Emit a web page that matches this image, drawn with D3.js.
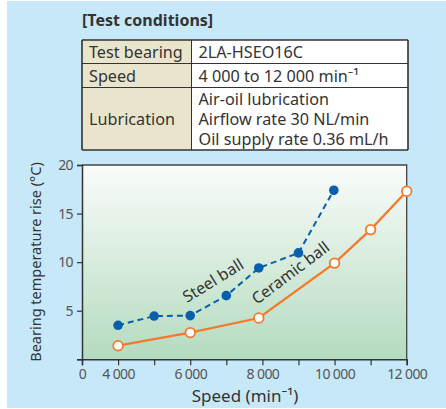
<!DOCTYPE html>
<html><head><meta charset="utf-8">
<script src="https://cdn.jsdelivr.net/npm/d3@7"></script>
<style>body{margin:0;background:#fff}svg{display:block;font-family:"Noto Sans","Open Sans",sans-serif}</style>
</head><body>
<svg id="c" width="446" height="409"></svg>
<script>
const conditionLabels = ["Test bearing", "Speed", "Lubrication"];
const conditionValues = [["2LA-HSEO16C"], ["4 000 to 12 000 min\u207B\u00B9"], ["Air-oil lubrication", "Airflow rate 30 NL/min", "Oil supply rate 0.36 mL/h"]];
const steelSpeed = [4000, 5000, 6000, 7000, 7900, 9000, 9980];
const steelRise = [3.5, 4.45, 4.5, 6.55, 9.4, 10.95, 17.4];
const ceramicSpeed = [4000, 6000, 7900, 10000, 11000, 12000];
const ceramicRise = [1.4, 2.75, 4.25, 9.9, 13.35, 17.3];
const xTicks = [3000, 4000, 5000, 6000, 7000, 8000, 9000, 10000, 11000, 12000];
const xTickLabels = ["0", "4 000", "", "6 000", "", "8 000", "", "10 000", "", "12 000"];
const yTicks = [0, 5, 10, 15, 20];
const yTickLabels = ["", "5", "10", "15", "20"];

const svg = d3.select("#c");
svg.append("rect").attr("x", 7).attr("y", 1).attr("width", 439).attr("height", 407).attr("fill", "#c6e8f8");

// Table
svg.append("text").attr("x", 82).attr("y", 26).attr("font-size", 16).attr("font-weight", "bold").attr("fill", "#333").text("[Test conditions]");
const rowY = [40, 63.5, 87.5, 150];
const tx0 = 82, tx1 = 191.5, tx2 = 408;
const fs = 16.2;
const tg = svg.append("g");
conditionLabels.forEach((lab, i) => {
  const y0 = rowY[i], y1 = rowY[i + 1];
  tg.append("rect").attr("x", tx0).attr("y", y0).attr("width", tx1 - tx0).attr("height", y1 - y0).attr("fill", "#e9e5cd");
  tg.append("rect").attr("x", tx1).attr("y", y0).attr("width", tx2 - tx1).attr("height", y1 - y0).attr("fill", "#fff");
  tg.append("text").attr("x", tx0 + 7).attr("y", (y0 + y1) / 2 + 6).attr("font-size", fs).attr("fill", "#333").text(lab);
  const lines = conditionValues[i];
  const t = tg.append("text").attr("font-size", fs).attr("fill", "#333");
  lines.forEach((s, j) => {
    t.append("tspan").attr("x", tx1 + 7).attr("y", (y0 + y1) / 2 + 6 + (j - (lines.length - 1) / 2) * 19.8).text(s);
  });
});
rowY.forEach(y => tg.append("line").attr("x1", tx0).attr("x2", tx2).attr("y1", y).attr("y2", y).attr("stroke", "#333").attr("stroke-width", y === 40 || y === 150 ? 1.6 : 1));
[tx0, tx1, tx2].forEach(x => tg.append("line").attr("x1", x).attr("x2", x).attr("y1", 40).attr("y2", 150).attr("stroke", "#333").attr("stroke-width", x === tx1 ? 1 : 1.6));

// Chart
const x = d3.scaleLinear().domain([3000, 12000]).range([82, 406.7]);
const y = d3.scaleLinear().domain([0, 20]).range([359.3, 165]);

const defs = svg.append("defs");
const grad = defs.append("linearGradient").attr("id", "pg").attr("x1", 0).attr("y1", 0).attr("x2", 0).attr("y2", 1);
grad.append("stop").attr("offset", 0).attr("stop-color", "#fafcfa");
grad.append("stop").attr("offset", 1).attr("stop-color", "#b4dbbf");
svg.append("rect").attr("x", x(3000)).attr("y", y(20)).attr("width", x(12000) - x(3000)).attr("height", y(0) - y(20)).attr("fill", "url(#pg)");
svg.append("path").attr("d", `M${x(3000)},${y(20)}H${x(12000)}V${y(0)}`).attr("fill", "none").attr("stroke", "#444").attr("stroke-width", 1.3);

const xAxis = svg.append("g").attr("transform", `translate(0,${y(0)})`)
  .call(d3.axisBottom(x).tickValues(xTicks).tickSize(6).tickFormat((d, i) => xTickLabels[i]));
const yAxis = svg.append("g").attr("transform", `translate(${x(3000)},0)`)
  .call(d3.axisLeft(y).tickValues(yTicks).tickSize(5).tickFormat((d, i) => yTickLabels[i]));
[xAxis, yAxis].forEach(a => {
  a.select(".domain").attr("stroke", "#333").attr("stroke-width", 1.5);
  a.selectAll(".tick line").attr("stroke", "#333").attr("stroke-width", 1.2);
  a.selectAll("text").attr("font-size", 14).attr("fill", "#555").attr("font-family", "Noto Sans, sans-serif").attr("letter-spacing", -0.6);
});
xAxis.selectAll("text").attr("dy", "0.8em");
yAxis.selectAll("text").attr("dx", "-1px");

svg.append("text").attr("x", 245).attr("y", 402).attr("text-anchor", "middle").attr("font-size", 17).attr("fill", "#333").text("Speed (min\u207B\u00B9)");
svg.append("text").attr("transform", "translate(41,262) rotate(-90)").attr("text-anchor", "middle").attr("font-size", 14.5).attr("fill", "#333").text("Bearing temperature rise (\u00B0C)");

const line = d3.line().x(d => x(d[0])).y(d => y(d[1]));
const steel = steelSpeed.map((s, i) => [s, steelRise[i]]);
const ceramic = ceramicSpeed.map((s, i) => [s, ceramicRise[i]]);

svg.append("path").datum(ceramic).attr("d", line).attr("fill", "none").attr("stroke", "#f37a2c").attr("stroke-width", 2.3);
svg.append("path").datum(steel).attr("d", line).attr("fill", "none").attr("stroke", "#0a5fad").attr("stroke-width", 2).attr("stroke-dasharray", "6,4");
svg.selectAll(".cp").data(ceramic).join("circle").attr("cx", d => x(d[0])).attr("cy", d => y(d[1])).attr("r", 4.8)
  .attr("fill", "#fff").attr("stroke", "#f37a2c").attr("stroke-width", 1.8);
svg.selectAll(".sp").data(steel).join("circle").attr("cx", d => x(d[0])).attr("cy", d => y(d[1])).attr("r", 4.8).attr("fill", "#0a5fad");

svg.append("text").attr("transform", "translate(187,303) rotate(-31.5)").attr("font-size", 16).attr("fill", "#333").text("Steel ball");
svg.append("text").attr("transform", "translate(257,305) rotate(-37)").attr("font-size", 16).attr("fill", "#333").text("Ceramic ball");
</script>
</body></html>
